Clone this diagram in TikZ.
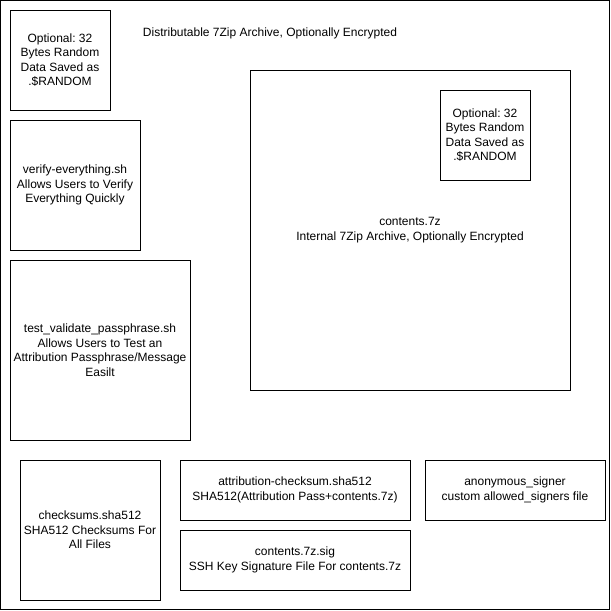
\documentclass[tikz,border=0pt]{standalone}
\usepackage{fontspec}
\setmainfont{Liberation Sans}
\frenchspacing
\begin{document}
\begin{tikzpicture}[x=1pt,y=-1pt,
  box/.style={draw=black,line width=1pt,fill=white,inner sep=0pt,align=center,font=\fontsize{12}{14.5}\selectfont},
  lbl/.style={inner sep=0pt,align=center,font=\fontsize{12}{14.5}\selectfont}]
\useasboundingbox (0,0) rectangle (611,611);
\node[box,minimum width=609pt,minimum height=609pt] (outer) at (305,305) {};
\node[lbl] (title) at (270,33) {Distributable 7Zip Archive, Optionally Encrypted};
\node[box,minimum width=100pt,minimum height=100pt] (rand1) at (60,60) {Optional: 32\\Bytes Random\\Data Saved as\\.\$RANDOM};
\node[box,minimum width=130pt,minimum height=130pt] (verify) at (75,185) {verify-everything.sh\\Allows Users to Verify\\Everything Quickly};
\node[box,minimum width=180pt,minimum height=180pt] (test) at (100,350) {test\_validate\_passphrase.sh\\Allows Users to Test an\\Attribution Passphrase/Message\\Easilt};
\node[box,minimum width=320pt,minimum height=320pt] (contents) at (410,230) {};
\node[lbl] (contentslbl) at (410,230) {contents.7z\\Internal 7Zip Archive, Optionally Encrypted};
\node[box,minimum width=90pt,minimum height=90pt] (rand2) at (485,135) {Optional: 32\\Bytes Random\\Data Saved as\\.\$RANDOM};
\node[box,minimum width=140pt,minimum height=140pt] (checksums) at (90,530) {checksums.sha512\\SHA512 Checksums For\\All Files};
\node[box,minimum width=230pt,minimum height=60pt] (attr) at (295,490) {attribution-checksum.sha512\\SHA512(Attribution Pass+contents.7z)};
\node[box,minimum width=230pt,minimum height=60pt] (sig) at (295,560) {contents.7z.sig\\SSH Key Signature File For contents.7z};
\node[box,minimum width=180pt,minimum height=60pt] (anon) at (515,490) {anonymous\_signer\\custom allowed\_signers file};
\end{tikzpicture}
\end{document}
